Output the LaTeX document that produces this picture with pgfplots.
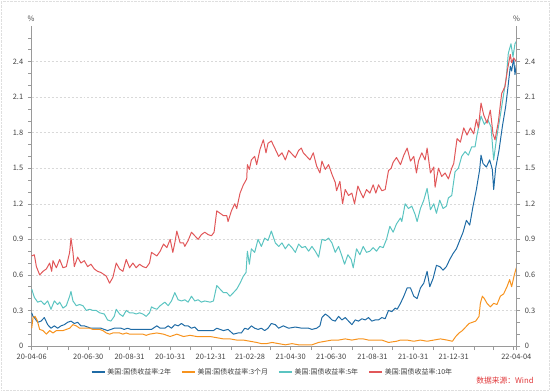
\documentclass[border=0pt]{standalone}
\usepackage{pgfplots}
\pgfplotsset{compat=1.18}
\usepackage{fontspec}
\setmainfont{Noto Sans CJK SC}
\definecolor{ctwo}{HTML}{1F6BA5}
\definecolor{cthree}{HTML}{F7931E}
\definecolor{cfive}{HTML}{5BC4C1}
\definecolor{cten}{HTML}{E15759}
\definecolor{axgray}{HTML}{9A9A9A}
\definecolor{txtgray}{HTML}{404040}
\definecolor{srcred}{HTML}{E0383A}
\begin{document}
\begin{tikzpicture}
\useasboundingbox (0bp,0bp) rectangle (553bp,391bp);
\draw[densely dotted, color=gray!25] (1bp,1bp) rectangle (549bp,390bp);
\pgfplotsset{
  common/.style={
    at={(31.7bp,45bp)}, anchor=south west,
    scale only axis, width=484.6bp, height=320bp,
    xmin=0, xmax=728, ymin=0, ymax=2.7,
    ytick={0,0.3,0.6,0.9,1.2,1.5,1.8,2.1,2.4},
    yticklabels={0,0.3,0.6,0.9,1.2,1.5,1.8,2.1,2.4},
    minor ytick={0.1,0.2,0.4,0.5,0.7,0.8,1.0,1.1,1.3,1.4,1.6,1.7,1.9,2.0,2.2,2.3,2.5,2.6},
    tick align=outside,
    major tick length=4bp, minor tick length=3.5bp,
    axis line style={color=axgray, line width=0.6pt},
    every tick/.style={color=axgray, line width=0.5pt},
    tick label style={font=\fontsize{7.5}{8}\selectfont, color=txtgray},
    clip=false,
  }
}
\begin{axis}[common,
  axis x line*=bottom, axis y line*=left,
  xtick={0,24,55,85,116,147,177,208,238,269,300,328,359,389,420,450,481,512,542,573,603,634,665,693,724,728},
  xticklabels={20-04-06,,,20-06-30,,20-08-31,,20-10-31,,20-12-31,,21-02-28,,21-04-30,,21-06-30,,21-08-31,,21-10-31,,21-12-31,,,,22-04-04},
  ymajorgrids, major grid style={dash pattern=on 2pt off 2pt, color=gray!30, line width=0.5pt},
  yticklabel style={xshift=-1bp},
  xticklabel style={yshift=-1bp},
  legend columns=4,
  legend style={at={(0.497,-0.081)}, anchor=center, draw=none, fill=none,
    font=\fontsize{7}{8}\selectfont, text=txtgray,
    /tikz/every even column/.append style={column sep=8bp}},
  legend image code/.code={\draw[#1, line width=1.6pt] (0bp,0bp) -- (13bp,0bp);},
  legend cell align=left,
  every axis plot/.append style={line width=1pt, line join=round},
]
\addplot[color=ctwo, mark=none] table {
0 0.28
2 0.25
4 0.24
9 0.20
14 0.21
19 0.24
24 0.18
29 0.15
34 0.17
39 0.15
44 0.17
49 0.18
54 0.20
59 0.21
64 0.19
69 0.20
74 0.17
79 0.17
84 0.16
89 0.15
94 0.15
99 0.15
104 0.15
109 0.14
114 0.13
119 0.14
124 0.15
129 0.15
134 0.15
139 0.14
144 0.15
149 0.14
154 0.14
159 0.14
164 0.14
169 0.14
174 0.14
180 0.14
188 0.17
193 0.15
200 0.15
205 0.17
210 0.15
215 0.18
220 0.17
225 0.19
230 0.17
235 0.17
240 0.15
245 0.16
250 0.13
258 0.13
265 0.13
273 0.13
278 0.15
283 0.14
288 0.13
295 0.14
303 0.10
310 0.11
315 0.11
320 0.15
325 0.14
330 0.17
335 0.15
340 0.14
345 0.15
350 0.13
355 0.15
360 0.19
366 0.18
371 0.15
378 0.17
386 0.15
396 0.16
406 0.15
416 0.15
421 0.14
428 0.15
433 0.17
436 0.24
441 0.27
446 0.25
451 0.22
456 0.21
461 0.25
466 0.22
471 0.24
476 0.21
481 0.18
486 0.22
491 0.21
496 0.23
501 0.22
506 0.24
511 0.21
516 0.22
521 0.22
526 0.24
531 0.23
536 0.30
541 0.29
546 0.32
549 0.31
554 0.36
559 0.42
564 0.49
569 0.49
574 0.42
579 0.40
584 0.49
589 0.53
594 0.63
598 0.50
603 0.57
608 0.68
613 0.67
618 0.64
623 0.67
628 0.73
633 0.78
638 0.82
643 0.89
648 0.96
653 1.06
658 1.02
663 1.18
668 1.32
673 1.49
675 1.61
678 1.54
683 1.51
688 1.57
692 1.49
694 1.32
697 1.50
702 1.65
707 1.85
712 2.02
715 2.16
719 2.36
721 2.32
724 2.43
726 2.29
728 2.37
};
\addlegendentry{美国:国债收益率:2年}
\addplot[color=cthree, mark=none] table {
0 0.15
2 0.24
5 0.25
8 0.22
12 0.14
17 0.13
22 0.10
27 0.13
32 0.11
37 0.13
42 0.13
47 0.13
52 0.14
57 0.15
62 0.18
67 0.17
72 0.15
77 0.15
82 0.15
87 0.15
92 0.14
97 0.14
102 0.14
107 0.13
112 0.11
117 0.10
122 0.11
127 0.11
132 0.11
137 0.10
142 0.11
147 0.10
152 0.10
157 0.10
162 0.10
167 0.10
172 0.09
177 0.10
188 0.11
198 0.10
208 0.08
218 0.10
228 0.08
238 0.09
248 0.08
258 0.08
268 0.08
278 0.07
288 0.06
298 0.06
308 0.05
318 0.05
328 0.04
338 0.03
345 0.02
353 0.02
361 0.03
371 0.02
381 0.01
391 0.02
401 0.01
411 0.01
421 0.01
431 0.03
441 0.04
451 0.05
461 0.05
471 0.06
481 0.05
491 0.06
498 0.06
506 0.05
516 0.05
526 0.05
536 0.03
548 0.04
554 0.05
564 0.05
574 0.04
584 0.05
594 0.04
604 0.05
614 0.06
624 0.05
632 0.04
637 0.08
642 0.11
647 0.13
652 0.16
657 0.19
662 0.20
667 0.21
672 0.25
674 0.36
677 0.42
680 0.40
684 0.36
689 0.33
694 0.36
699 0.35
704 0.42
709 0.44
714 0.50
718 0.56
721 0.50
725 0.60
728 0.66
};
\addlegendentry{美国:国债收益率:3个月}
\addplot[color=cfive, mark=none] table {
0 0.48
4 0.41
9 0.37
14 0.38
19 0.35
24 0.38
29 0.31
34 0.38
39 0.35
42 0.37
47 0.32
52 0.34
57 0.42
59 0.46
62 0.38
67 0.34
72 0.35
77 0.34
82 0.30
87 0.31
92 0.30
97 0.30
102 0.28
109 0.27
114 0.22
119 0.21
124 0.25
127 0.31
132 0.27
137 0.25
142 0.30
147 0.28
152 0.28
157 0.27
162 0.28
167 0.27
172 0.25
177 0.28
180 0.33
183 0.32
188 0.31
193 0.34
200 0.37
205 0.34
210 0.38
215 0.45
220 0.39
225 0.38
230 0.39
235 0.37
240 0.42
245 0.38
250 0.39
255 0.37
260 0.38
268 0.37
273 0.38
278 0.51
283 0.48
288 0.45
293 0.45
298 0.42
303 0.45
308 0.48
313 0.53
318 0.59
322 0.62
324 0.80
327 0.69
330 0.82
335 0.79
340 0.90
345 0.84
350 0.91
355 0.89
360 0.97
366 0.87
371 0.84
376 0.87
381 0.82
386 0.86
391 0.83
396 0.79
401 0.86
406 0.83
411 0.84
416 0.80
421 0.84
426 0.80
431 0.75
436 0.90
441 0.89
446 0.91
451 0.87
456 0.79
461 0.84
466 0.76
470 0.69
475 0.77
480 0.73
483 0.66
488 0.82
493 0.77
498 0.84
503 0.79
508 0.80
513 0.83
518 0.80
523 0.84
528 0.83
533 0.90
538 1.01
543 0.96
548 1.03
554 1.08
556 1.05
561 1.20
566 1.16
571 1.18
576 1.11
579 1.05
584 1.16
589 1.23
594 1.33
599 1.15
604 1.20
608 1.12
613 1.23
618 1.16
623 1.18
626 1.25
631 1.27
636 1.47
641 1.50
646 1.60
651 1.64
656 1.61
661 1.68
666 1.68
669 1.78
675 1.94
680 1.87
685 1.91
690 1.85
694 1.57
698 1.74
703 1.91
708 2.09
713 2.27
716 2.47
720 2.55
723 2.44
726 2.55
728 2.57
};
\addlegendentry{美国:国债收益率:5年}
\addplot[color=cten, mark=none] table {
0 0.76
4 0.77
7 0.67
12 0.60
17 0.63
22 0.65
27 0.70
30 0.63
32 0.72
37 0.66
42 0.73
47 0.66
52 0.67
57 0.79
59 0.91
62 0.79
64 0.67
69 0.75
74 0.70
79 0.72
84 0.67
89 0.69
94 0.65
99 0.63
104 0.62
112 0.59
117 0.53
122 0.58
127 0.70
132 0.65
137 0.63
142 0.73
147 0.66
152 0.70
157 0.66
162 0.69
167 0.67
172 0.66
177 0.70
180 0.79
188 0.76
193 0.80
198 0.86
203 0.83
208 0.90
212 0.79
215 0.87
218 0.97
223 0.87
228 0.87
230 0.84
235 0.89
240 0.96
245 0.93
250 0.90
255 0.94
260 0.96
265 0.94
270 0.93
274 0.96
278 1.14
283 1.12
288 1.10
293 1.10
295 1.05
300 1.14
305 1.20
308 1.16
313 1.29
318 1.36
323 1.41
324 1.53
327 1.49
330 1.57
335 1.60
338 1.53
343 1.66
348 1.74
352 1.63
355 1.71
360 1.73
366 1.66
371 1.60
376 1.63
381 1.57
386 1.65
391 1.62
396 1.59
401 1.65
405 1.67
408 1.63
413 1.60
418 1.57
423 1.63
428 1.52
433 1.46
436 1.56
441 1.49
446 1.53
451 1.45
456 1.38
458 1.31
463 1.39
467 1.20
471 1.32
476 1.27
481 1.29
485 1.20
490 1.35
493 1.31
498 1.25
503 1.32
508 1.29
513 1.36
517 1.29
521 1.36
526 1.31
531 1.32
536 1.48
540 1.50
543 1.55
548 1.59
554 1.53
559 1.61
564 1.67
569 1.56
574 1.60
578 1.46
581 1.56
586 1.63
591 1.57
594 1.67
599 1.46
604 1.51
606 1.34
611 1.50
616 1.43
621 1.46
626 1.41
631 1.50
634 1.54
639 1.75
644 1.72
649 1.84
654 1.78
659 1.84
664 1.79
668 1.91
671 1.84
675 2.05
679 1.95
684 1.88
689 1.99
693 1.79
696 1.74
701 1.89
706 2.13
711 2.19
715 2.34
719 2.46
721 2.39
724 2.43
728 2.40
};
\addlegendentry{美国:国债收益率:10年}
\end{axis}
\begin{axis}[common,
  axis x line=none, axis y line*=right,
  yticklabel style={xshift=1bp},
]
\end{axis}
\node[font=\fontsize{7.5}{8}\selectfont, text=txtgray] at (31bp,372bp) {\%};
\node[font=\fontsize{7.5}{8}\selectfont, text=txtgray] at (516.5bp,372bp) {\%};
\node[font=\fontsize{7.8}{9}\selectfont, text=srcred, inner sep=0pt] at (505bp,10bp) {数据来源：Wind};
\end{tikzpicture}
\end{document}
